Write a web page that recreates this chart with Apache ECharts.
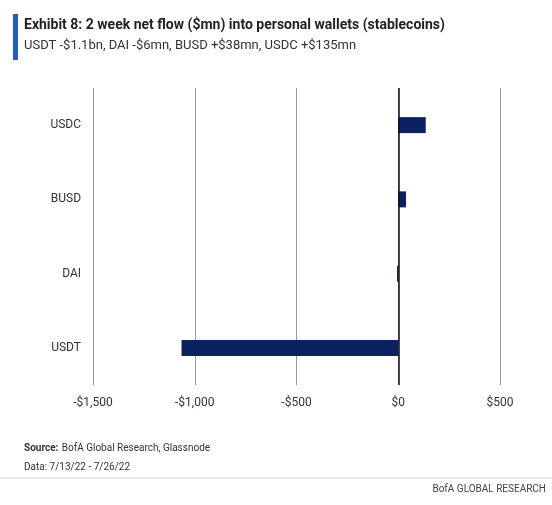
<!DOCTYPE html>
<html><head><meta charset="utf-8">
<script src="https://cdn.jsdelivr.net/npm/echarts@6/dist/echarts.min.js"></script>
<style>html,body{margin:0;padding:0;background:#fff}#c{width:552px;height:505px}</style>
</head><body><div id="c"></div>
<script>
const categories = ['USDT','DAI','BUSD','USDC'];
const values = [-1065, -6, 38, 135];
const tickLabels = {'-1500':'-$1,500','-1000':'-$1,000','-500':'-$500','0':'$0','500':'$500'};
const chart = echarts.init(document.getElementById('c'));
const f = 'Liberation Sans Narrow, Roboto, sans-serif';
chart.setOption({
  animation:false,
  graphic:[
    {type:'rect',shape:{x:13,y:14,width:5,height:46},style:{fill:'#1f5fbf'}},
    {type:'text',left:24,top:18,style:{text:'Exhibit 8: 2 week net flow ($mn) into personal wallets (stablecoins)',font:'bold 14px '+f,fill:'#222'}},
    {type:'text',left:24,top:39,style:{text:'USDT -$1.1bn, DAI -$6mn, BUSD +$38mn, USDC +$135mn',font:'13px '+f,fill:'#333'}},
    {type:'text',left:24,top:442,style:{rich:{b:{font:'bold 10px '+f,fill:'#333'},n:{font:'10px '+f,fill:'#333'}},text:'{b|Source:} {n|BofA Global Research, Glassnode}'}},
    {type:'text',left:24,top:462,style:{text:'Data: 7/13/22 - 7/26/22',font:'10px '+f,fill:'#333'}},
    {type:'text',right:6,top:484,style:{text:'BofA GLOBAL RESEARCH',font:'10px '+f,fill:'#444'}},
    {type:'line',shape:{x1:0,y1:478,x2:552,y2:478},style:{stroke:'#ccc',lineWidth:1}}
  ],
  grid:{left:93,right:52,top:88,bottom:120,containLabel:false,outerBoundsMode:'none'},
  xAxis:{type:'value',min:-1500,max:500,interval:500,
    axisLine:{show:false},axisTick:{show:false},
    splitLine:{lineStyle:{color:'#999'}},
    axisLabel:{color:'#333',fontFamily:f,fontSize:12,margin:12,formatter:v=>tickLabels[String(v)]}},
  yAxis:{type:'category',data:categories,position:'left',
    axisLine:{show:false},axisTick:{show:false},
    axisLabel:{color:'#333',fontFamily:f,fontSize:12,margin:12}},
  series:[{type:'bar',data:values,barWidth:16,itemStyle:{color:'#0b2160'},
    markLine:{silent:true,symbol:'none',label:{show:false},lineStyle:{color:'#111',width:1.5,type:'solid'},data:[{xAxis:0}]}}]
});
</script></body></html>
